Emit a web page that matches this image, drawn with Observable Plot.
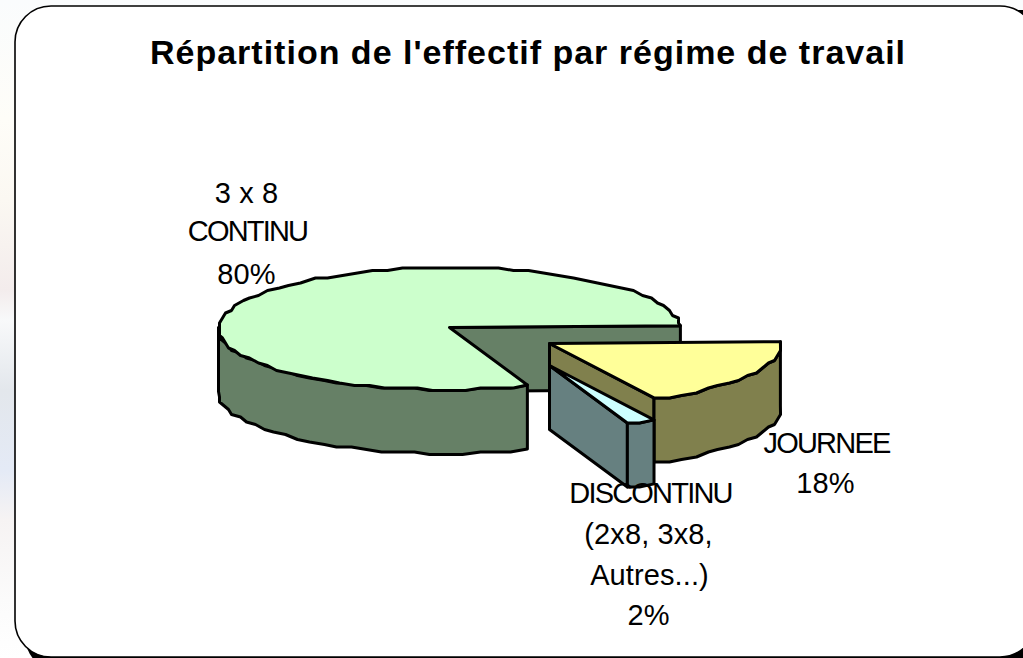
<!DOCTYPE html>
<html><head><meta charset="utf-8">
<script src="https://cdn.jsdelivr.net/npm/d3@7"></script>
<script src="https://cdn.jsdelivr.net/npm/@observablehq/plot@0.6"></script>
<style>
html,body{margin:0;padding:0;overflow:hidden}
body{background:linear-gradient(to bottom,#fafcfd 0,#fefdf8 120px,#fbf8f2 200px,#f3ecec 290px,#f8f9fa 320px,#e3e7ec 390px,#e4eaf6 470px,#f6f3f3 520px,#fbfbfb 600px,#ffffff 658px)}
svg{display:block}
.wide text{letter-spacing:.1px}
.tight text{letter-spacing:-1.8px}
.ttl text{letter-spacing:1px}
</style></head><body>
<script>
const title = "Répartition de l'effectif par régime de travail";
const categories = ["3 x 8 CONTINU", "DISCONTINU (2x8, 3x8, Autres...)", "JOURNEE"];
const shares = [80, 2, 18];
const topColors = ["#CCFFCC", "#CCFFFF", "#FFFF99"];
const sideColors = ["#668066", "#668080", "#80804D"];
const labelLines = ["3 x 8", "CONTINU", "80%", "JOURNEE", "18%", "DISCONTINU", "(2x8, 3x8,", "Autres...)", "2%"];
const labelTight = [false, true, false, true, false, true, false, false, false];
const labelX = [246, 247, 246, 826, 825, 650, 648, 649, 648];
const labelY = [193, 231, 274, 443, 483, 493, 534, 575, 615];

// layout of the exploded 3-D pie
const rx = 231, ry = 61, depth = 64, startDeg = 1.7;
const centers = [[449, 327], [549, 365], [549, 343]];
const total = d3.sum(shares);
let cursor = startDeg;
const slices = shares.map((s, i) => {
  const a0 = cursor, a1 = cursor + s / total * 360;
  cursor = a1;
  return {i, a0, a1, c: centers[i]};
});
function pt(c, deg, dy = 0, wobble = false) {
  const t = deg * Math.PI / 180;
  let x = c[0] + rx * Math.cos(t), y = c[1] - ry * Math.sin(t);
  if (wobble) { x = Math.round(x / 3) * 3; y = Math.round((y + 1.2) / 2.5) * 2.5; }
  return [x, y + dy];
}
function arc(c, a0, a1, dy = 0) {
  const n = Math.max(1, Math.round(Math.abs(a1 - a0) / 4)), out = [];
  for (let k = 0; k <= n; k++) {
    const ends = k === 0 || k === n;
    out.push(pt(c, a0 + (a1 - a0) * k / n, dy, !ends));
  }
  return out;
}
const closed = p => [...p, p[0]];
const down = ([x, y]) => [x, y + depth];
const faces = [];
const add = (pts, fill) => faces.push({pts: closed(pts), fill});

// Green slice
{
  const s = slices[0], c = s.c;
  const e = pt(c, s.a0);
  add([c, e, down(e), down(c)], sideColors[0]);
  add([...arc(c, 180, s.a1), ...arc(c, s.a1, 180, depth)], sideColors[0]);
  add([c, ...arc(c, s.a0, s.a1)], topColors[0]);
}
// Yellow slice
{
  const s = slices[2], c = s.c;
  const b = pt(c, s.a0);
  add([c, b, down(b), down(c)], sideColors[2]);
  add([...arc(c, s.a0, s.a1), ...arc(c, s.a1, s.a0, depth)], sideColors[2]);
  add([c, ...arc(c, s.a0, s.a1)], topColors[2]);
}
// Blue slice
{
  const s = slices[1], c = s.c;
  const b = pt(c, s.a0);
  add([c, b, down(b), down(c)], sideColors[1]);
  add([...arc(c, s.a0, s.a1), ...arc(c, s.a1, s.a0, depth)], sideColors[1]);
  add([c, ...arc(c, s.a0, s.a1)], topColors[1]);
}
const faceMarks = faces.map(f => Plot.line(f.pts, {
  x: d => d[0], y: d => d[1], fill: f.fill, stroke: "#000", strokeWidth: 3,
  strokeLinejoin: "round", curve: "linear"
}));
const labels = labelLines.map((t, i) => ({t, x: labelX[i], y: labelY[i], tight: labelTight[i]}));
const textOpts = {x: "x", y: "y", text: "t", fontSize: 29, fontFamily: "Liberation Sans", fill: "#000", textAnchor: "middle", lineAnchor: "middle"};

const chart = Plot.plot({
  width: 1023, height: 658, margin: 0,
  x: {type: "linear", domain: [0, 1023], range: [0, 1023], axis: null},
  y: {type: "linear", domain: [0, 658], range: [0, 658], axis: null},
  style: {background: "transparent"},
  marks: [
    Plot.rect([{}], {x1: () => 25, x2: () => 1060, y1: () => 10, y2: () => 672, rx: 36, fill: "#000"}),
    Plot.rect([{}], {x1: () => 15, x2: () => 1036, y1: () => 6, y2: () => 657, rx: 36, fill: "#fff", stroke: "#000", strokeWidth: 1.6}),
    Plot.text([title], {x: () => 527.5, y: () => 53, text: d => d, fontSize: 34, fontWeight: "bold", fontFamily: "Liberation Sans", fill: "#000", textAnchor: "middle", lineAnchor: "middle", className: "ttl"}),
    ...faceMarks,
    Plot.text(labels.filter(d => d.tight), {...textOpts, className: "tight"}),
    Plot.text(labels.filter(d => !d.tight), {...textOpts, className: "wide"})
  ]
});
document.body.appendChild(chart);
</script>
</body></html>
